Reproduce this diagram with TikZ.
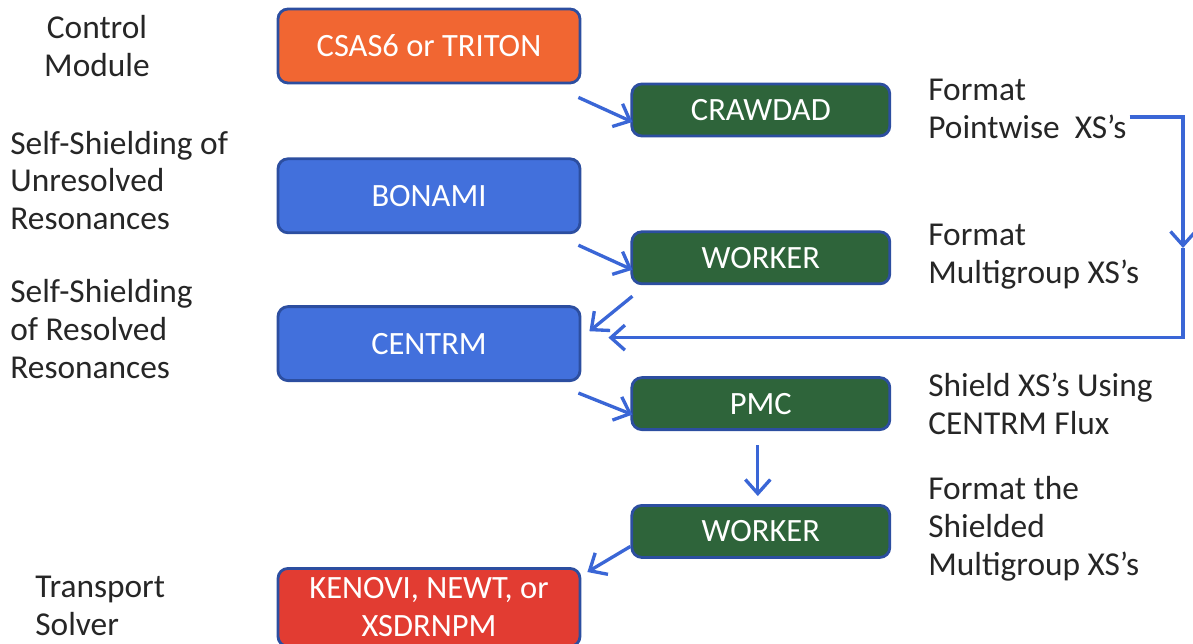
\documentclass[tikz,border=0pt]{standalone}
\usepackage{fontspec}
\setmainfont{Carlito}
\usetikzlibrary{positioning,arrows.meta}

\definecolor{ctrlorange}{RGB}{241,102,50}
\definecolor{modblue}{RGB}{66,112,220}
\definecolor{modgreen}{RGB}{46,100,58}
\definecolor{solvred}{RGB}{226,60,50}
\definecolor{edgeblue}{RGB}{44,78,160}
\definecolor{arrowblue}{RGB}{58,102,214}
\definecolor{labelgray}{RGB}{38,38,38}

\begin{document}
\begin{tikzpicture}[node distance=1.5cm and 0.98cm]

\tikzstyle{module} = [rectangle, rounded corners=0.2cm, draw=edgeblue, line width=1.6pt, text=white, align=center, font=\fontsize{18.5}{21.6}\selectfont]
\tikzstyle{bigbox} = [module, minimum width=6.04cm, minimum height=1.48cm]
\tikzstyle{smallbox} = [module, minimum width=5.16cm, minimum height=1.04cm]
\tikzstyle{note} = [text=labelgray, align=left, inner sep=0pt, font=\fontsize{19}{21.6}\selectfont]
\tikzstyle{flow} = [line width=1.9pt, draw=arrowblue, -{Straight Barb[length=0.28cm,width=0.5cm]}]

\useasboundingbox (0,0) rectangle (23.86,-12.88);

% Modules
\node (csas) [bigbox, fill=ctrlorange] at (8.58,-0.92) {CSAS6 or TRITON};
\node (crawdad) [smallbox, fill=modgreen, right=of csas, yshift=-1.28cm] {CRAWDAD};
\node (bonami) [bigbox, fill=modblue, below=1.46cm of csas] {BONAMI};
\node (worker1) [smallbox, fill=modgreen, below=1.86cm of crawdad] {WORKER};
\node (centrm) [bigbox, fill=modblue, below=1.42cm of bonami] {CENTRM};
\node (pmc) [smallbox, fill=modgreen, below=1.82cm of worker1] {PMC};
\node (worker2) [smallbox, fill=modgreen, below=1.46cm of pmc] {WORKER};
\node (kenovi) [bigbox, fill=solvred, below=3.7cm of centrm, minimum height=1.56cm, inner sep=0pt] {KENOVI, NEWT, or\\XSDRNPM};

% Left labels
\node (ctrl) [note, align=center] at (1.94,-0.92) {Control\\Module};
\node (unres) [note, anchor=west] at (0.2,-3.61) {Self-Shielding of\\Unresolved\\Resonances};
\node (res) [note, anchor=west] at (0.2,-6.58) {Self-Shielding\\of Resolved\\Resonances};
\node (transp) [note, anchor=west] at (0.7,-12.12) {Transport\\Solver};

% Right labels
\node (fmt1) [note, anchor=west] at (18.56,-2.18) {Format\\Pointwise\ \ XS's};
\node (fmt2) [note, anchor=west] at (18.56,-5.14) {Format\\Multigroup XS's};
\node (shield) [note, anchor=west] at (18.56,-8.08) {Shield XS's Using\\CENTRM Flux};
\node (fmt3) [note, anchor=west] at (18.56,-10.58) {Format the\\Shielded\\Multigroup XS's};

% Flow between modules
\draw [flow] ([shift={(-0.06,-0.26)}]csas.south east) -- ([shift={(0.04,-0.24)}]crawdad.west);
\draw [flow] ([shift={(-0.06,-0.22)}]bonami.south east) -- ([shift={(0.04,-0.24)}]worker1.west);
\draw [flow] ([shift={(0.04,-0.22)}]worker1.south west) -- ([shift={(0.16,-0.52)}]centrm.north east);
\draw [flow] ([shift={(-0.06,-0.22)}]centrm.south east) -- ([shift={(0.04,-0.22)}]pmc.west);
\draw [flow] ([shift={(-0.06,-0.28)}]pmc.south) -- ([shift={(-0.06,0.16)}]worker2.north);
\draw [flow] ([shift={(0,-0.3)}]worker2.west) -- ([shift={(0.12,-0.1)}]kenovi.north east);

% Pointwise loop back to CENTRM
\coordinate (loopstart) at ([shift={(0.06,-0.16)}]fmt1.east);
\coordinate (loopmid) at (23.66,-4.96);
\draw [flow] (loopstart) -| (loopmid);
\draw [flow] (loopmid) |- ([shift={(0.54,0.12)}]centrm.east);

\end{tikzpicture}
\end{document}
